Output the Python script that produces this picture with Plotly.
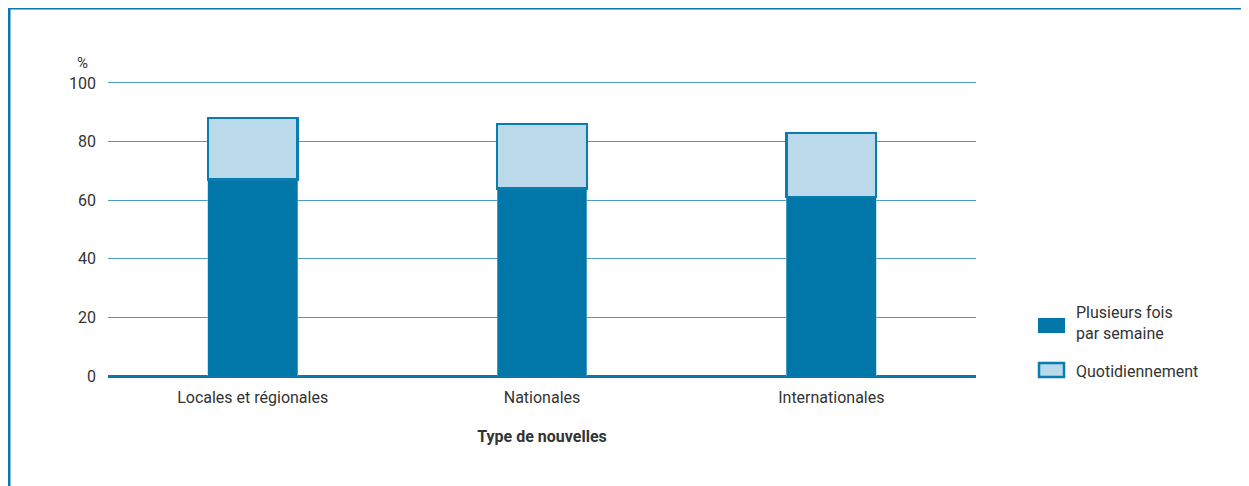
import plotly.graph_objects as go

categories = ["Locales et régionales", "Nationales", "Internationales"]
plusieurs_fois = [67, 64, 61]
quotidiennement = [21, 22, 22]
series_names = ["Plusieurs fois<br>par semaine", "Quotidiennement"]
y_ticks = [0, 20, 40, 60, 80, 100]

DARK = "#0077a8"
LIGHT = "#bad9ea"
GRID = "#4a9cc6"
TEXT = "#333333"
FONT = "Roboto, Liberation Sans, sans-serif"

# page is offset by the body margin (8px), so the figure is 8px smaller
W, H = 1241, 478
L, R, T, B = 100, 273, 72, 110
PW, PH = W - L - R, H - T - B


def px(x):
    return (x - L) / PW


def py(y):
    return (H - B - y) / PH


fig = go.Figure()
fig.add_trace(go.Bar(
    x=categories, y=plusieurs_fois, name=series_names[0],
    marker=dict(color=DARK, line=dict(color="#8cc3dd", width=0.5)),
))
fig.add_trace(go.Bar(
    x=categories, y=quotidiennement, name=series_names[1],
    marker=dict(color=LIGHT, line=dict(color="#0a7db0", width=2.5)),
))

# hand-drawn legend, larger swatches than plotly's default
legend_shapes = [
    dict(type="rect", xref="paper", yref="paper",
         x0=px(1030), x1=px(1057), y0=py(310), y1=py(325),
         fillcolor=DARK, line=dict(width=0)),
    dict(type="rect", xref="paper", yref="paper",
         x0=px(1031), x1=px(1056), y0=py(355), y1=py(369),
         fillcolor=LIGHT, line=dict(color="#0a7db0", width=2.5)),
]
legend_text = [
    dict(text=series_names[0], xref="paper", yref="paper", x=px(1066), y=py(315),
         showarrow=False, xanchor="left", yanchor="middle", align="left",
         font=dict(size=16, color=TEXT)),
    dict(text=series_names[1], xref="paper", yref="paper", x=px(1066), y=py(363),
         showarrow=False, xanchor="left", yanchor="middle", align="left",
         font=dict(size=16, color=TEXT)),
]

fig.update_layout(
    width=W, height=H,
    barmode="stack", bargap=0.69, showlegend=False,
    plot_bgcolor="white", paper_bgcolor="white",
    margin=dict(l=L, r=R, t=T, b=B),
    font=dict(family=FONT, size=16, color=TEXT),
    xaxis=dict(
        showgrid=False, ticks="", showline=False, ticklabelstandoff=10,
        tickfont=dict(size=16, color=TEXT),
        title=dict(text="<b>Type de nouvelles</b>", font=dict(size=16, color=TEXT), standoff=24),
    ),
    yaxis=dict(
        range=[0, 101], tickvals=y_ticks, showgrid=True, gridcolor=GRID, gridwidth=1,
        zeroline=True, zerolinecolor="#0a77aa", zerolinewidth=2.5,
        ticks="", ticklabelstandoff=11,
        tickfont=dict(size=16, color=TEXT),
    ),
    annotations=[dict(
        text="%", xref="paper", yref="paper", x=px(74), y=py(55),
        showarrow=False, xanchor="center", yanchor="middle", font=dict(size=15, color=TEXT),
    )] + legend_text,
    shapes=[
        # figure frame: top and left edges
        dict(type="line", xref="paper", yref="paper",
             x0=px(1), x1=px(W + 5), y0=py(0), y1=py(0),
             line=dict(color="#0a77aa", width=3)),
        dict(type="line", xref="paper", yref="paper",
             x0=px(1), x1=px(1), y0=py(0), y1=py(H + 5),
             line=dict(color="#0a77aa", width=3)),
    ] + legend_shapes,
)

fig.write_html("out.html")
